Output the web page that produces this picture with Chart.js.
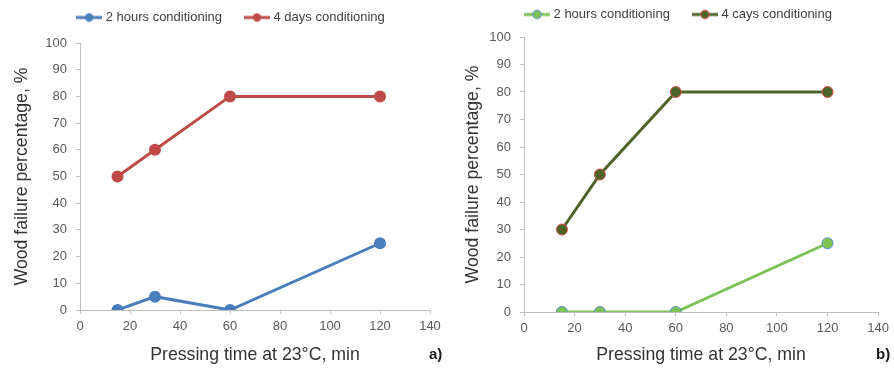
<!DOCTYPE html>
<html>
<head>
<meta charset="utf-8">
<script src="https://cdn.jsdelivr.net/npm/chart.js@4"></script>
<style>
  html, body { margin:0; padding:0; background:#fff; }
  #wrap { position:relative; width:894px; height:370px; }
  .box { position:absolute; top:0; width:447px; height:370px; }
</style>
</head>
<body>
<div id="wrap">
  <div class="box" style="left:0"><canvas id="chartA" width="447" height="370"></canvas></div>
  <div class="box" style="left:447px"><canvas id="chartB" width="447" height="370"></canvas></div>
</div>
<script>
// pressing time, min
const pressTimes = [15, 30, 60, 120];
// panel a)
const a2hours = [0, 5, 0, 25];
const a4days = [50, 60, 80, 80];
// panel b)
const b2hours = [0, 0, 0, 25];
const b4days = [30, 50, 80, 80];

const xTicks = [0, 20, 40, 60, 80, 100, 120, 140];
const yTicks = [0, 10, 20, 30, 40, 50, 60, 70, 80, 90, 100];

const legendA = ["2 hours conditioning", "4 days conditioning"];
const legendB = ["2 hours conditioning", "4 cays conditioning"];

const FONT = "'Liberation Sans', Arial, sans-serif";

function pts(ys) {
    return pressTimes.map((x, i) => ({ x: x, y: ys[i] }));
}

// legend icon: short line with a dot
function legendIcon(line, fill, stroke) {
    const c = document.createElement('canvas');
    c.width = 26; c.height = 12;
    const g = c.getContext('2d');
    g.strokeStyle = line; g.lineWidth = 3;
    g.beginPath(); g.moveTo(0, 6); g.lineTo(26, 6); g.stroke();
    g.beginPath(); g.arc(13, 6, 4.2, 0, Math.PI * 2);
    g.fillStyle = fill; g.fill();
    if (stroke) { g.lineWidth = 1; g.strokeStyle = stroke; g.stroke(); }
    return c;
}

// panel letter + legend box tweaks (fixed height, horizontal shift)
function panelPlugin(cfg) {
    return {
        id: 'panelPlugin',
        afterInit(chart) {
            const lg = chart.legend;
            if (!lg) return;
            const fit = lg.fit.bind(lg);
            lg.fit = function() { fit(); this.height = cfg.legendHeight; };
            const draw = lg.draw.bind(lg);
            lg.draw = function() {
                chart.ctx.save();
                chart.ctx.translate(cfg.legendShift, 0);
                draw();
                chart.ctx.restore();
            };
        },
        afterDraw(chart) {
            const ctx = chart.ctx;
            ctx.save();
            ctx.font = "bold 15px " + FONT;
            ctx.fillStyle = '#1a1a1a';
            ctx.textAlign = 'left';
            ctx.textBaseline = 'middle';
            ctx.fillText(cfg.panel, 429, 355);
            ctx.restore();
        }
    };
}

function makeChart(id, cfg) {
    const ds = cfg.series.map(s => ({
        label: s.label,
        data: pts(s.values),
        borderColor: s.line,
        backgroundColor: s.fill,
        pointBackgroundColor: s.fill,
        pointBorderColor: s.stroke || s.fill,
        pointBorderWidth: s.stroke ? 1 : 0,
        pointRadius: s.radius,
        pointHoverRadius: s.radius,
        borderWidth: 3,
        pointStyle: 'circle',
        tension: 0,
        legendIcon: legendIcon(s.line, s.fill, s.stroke)
    }));

    const chart = new Chart(document.getElementById(id), {
        type: 'line',
        data: { datasets: ds },
        options: {
            responsive: false,
            animation: false,
            devicePixelRatio: 1,
            layout: { padding: { top: cfg.padTop, left: 0, right: cfg.padRight, bottom: 0 } },
            plugins: {
                tooltip: { enabled: false },
                legend: {
                    position: 'top',
                    labels: {
                        usePointStyle: true,
                        pointStyleWidth: 20,
                        padding: 25,
                        color: '#404040',
                        font: { family: FONT, size: 13 },
                        generateLabels(chart) {
                            return chart.data.datasets.map((d, i) => ({
                                text: d.label,
                                pointStyle: d.legendIcon,
                                fillStyle: d.backgroundColor,
                                strokeStyle: d.borderColor,
                                lineWidth: 0,
                                hidden: false,
                                datasetIndex: i,
                                fontColor: '#404040'
                            }));
                        }
                    }
                }
            },
            scales: {
                x: {
                    type: 'linear',
                    min: 0, max: 140,
                    afterBuildTicks(scale) { scale.ticks = xTicks.map(v => ({ value: v })); },
                    afterFit(scale) { scale.height = cfg.xHeight; },
                    border: { display: true, color: '#bfbfbf', width: 1 },
                    grid: { display: true, drawOnChartArea: false, drawTicks: true, tickLength: 4, color: '#bfbfbf' },
                    ticks: { color: '#595959', font: { family: FONT, size: 13 }, padding: 5, maxRotation: 0 },
                    title: {
                        display: true,
                        text: 'Pressing time at 23°C, min',
                        color: '#333333',
                        font: { family: FONT, size: 17.7 },
                        padding: { top: 0, bottom: 4 }
                    }
                },
                y: {
                    min: 0, max: 100,
                    afterBuildTicks(scale) { scale.ticks = yTicks.map(v => ({ value: v })); },
                    afterFit(scale) { scale.width = cfg.yWidth; },
                    border: { display: true, color: '#bfbfbf', width: 1 },
                    grid: { display: true, drawOnChartArea: false, drawTicks: true, tickLength: 4, color: '#bfbfbf' },
                    ticks: { color: '#595959', font: { family: FONT, size: 13 }, padding: 9 },
                    title: {
                        display: true,
                        text: 'Wood failure percentage, %',
                        color: '#333333',
                        font: { family: FONT, size: 17.7 },
                        padding: { top: cfg.yTitlePad, bottom: 0 }
                    }
                }
            }
        },
        plugins: [panelPlugin(cfg)]
    });
    chart.update();
    return chart;
}

makeChart('chartA', {
    panel: 'a)',
    padTop: -14, padRight: 17,
    legendHeight: 57, legendShift: 17,
    xHeight: 60, yWidth: 80, yTitlePad: 11,
    series: [
        { label: legendA[0], values: a2hours, line: '#4a7ebb', fill: '#4a7ebb', radius: 6 },
        { label: legendA[1], values: a4days, line: '#be4b48', fill: '#be4b48', radius: 6 }
    ]
});

makeChart('chartB', {
    panel: 'b)',
    padTop: -17, padRight: 10,
    legendHeight: 54, legendShift: 14,
    xHeight: 58, yWidth: 77, yTitlePad: 15,
    series: [
        { label: legendB[0], values: b2hours, line: '#7cc255', fill: '#7cc255', stroke: '#5b8fd0', radius: 5.5 },
        { label: legendB[1], values: b4days, line: '#4f6228', fill: '#4f6228', stroke: '#d9534f', radius: 5.5 }
    ]
});
</script>
</body>
</html>
